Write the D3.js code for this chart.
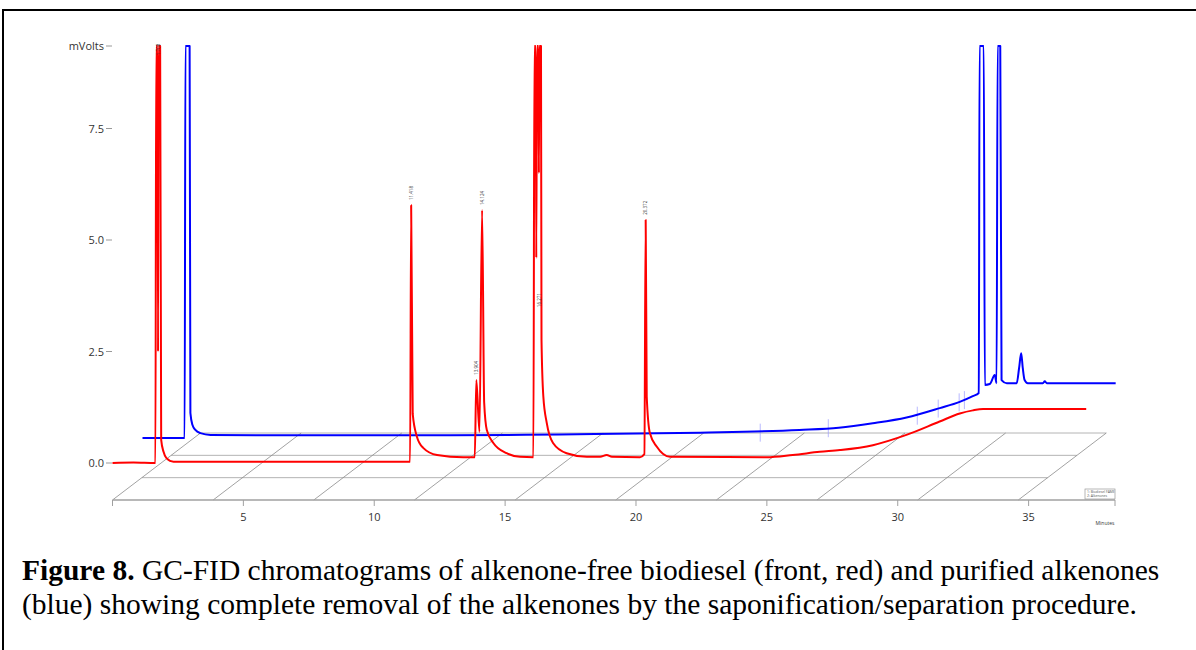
<!DOCTYPE html>
<html>
<head>
<meta charset="utf-8">
<script src="https://cdn.jsdelivr.net/npm/d3@7"></script>
<style>
  body { margin: 0; background: #fff; }
  svg { display: block; }
</style>
</head>
<body>
<svg id="chart" width="1196" height="650"></svg>
<script>
// ---- data (time in minutes, signal in mV) ----
// values of 9.4 mean the peak runs off the top of the plot
var redTrace = [
  [0.00, 0.00], [0.80, 0.01], [1.64, 0.00], [1.67, 9.4], [1.72, 9.4],
  [1.74, 2.5], [1.76, 9.4], [1.82, 9.4],
  [1.86, 0.52], [1.95, 0.25], [2.06, 0.11], [2.33, 0.03], [6.00, 0.03],
  [11.37, 0.03], [11.41, 5.78], [11.47, 1.10], [11.63, 0.59], [11.87, 0.34],
  [12.40, 0.18], [13.40, 0.13], [13.84, 0.13], [13.90, 1.86], [14.02, 0.70],
  [14.12, 5.67], [14.20, 1.35], [14.30, 0.74], [14.55, 0.45], [15.06, 0.22],
  [15.57, 0.14], [16.08, 0.13], [16.12, 9.4], [16.17, 9.4], [16.19, 4.6],
  [16.22, 9.4], [16.27, 9.4], [16.29, 6.5], [16.31, 9.4], [16.37, 9.4],
  [16.39, 2.76], [16.46, 1.49], [16.59, 0.90],
  [16.83, 0.45], [17.35, 0.22], [18.12, 0.14], [18.63, 0.14], [18.88, 0.18],
  [19.08, 0.14], [20.15, 0.13], [20.32, 0.20], [20.37, 5.45], [20.41, 1.49],
  [20.53, 0.67], [20.79, 0.37], [21.30, 0.14], [24.99, 0.13], [25.99, 0.18],
  [27.02, 0.25], [27.79, 0.29], [29.05, 0.40], [30.33, 0.63], [31.60, 0.93],
  [32.37, 1.11], [32.87, 1.18], [33.26, 1.21], [37.20, 1.21]
];

var blueTrace = [
  [0.00, 0.00], [1.61, 0.00], [1.64, 9.4], [1.80, 9.4], [1.83, 0.56],
  [1.91, 0.29], [2.02, 0.18], [2.21, 0.11], [2.60, 0.07], [6.03, 0.06],
  [11.76, 0.06], [15.95, 0.08], [21.30, 0.12], [25.10, 0.18], [26.60, 0.23],
  [27.90, 0.33], [29.19, 0.46], [30.46, 0.67], [31.22, 0.81], [31.72, 0.94],
  [31.95, 1.01], [31.98, 9.4], [32.14, 9.4], [32.18, 1.19], [32.37, 1.21],
  [32.56, 1.41], [32.63, 1.23], [32.67, 9.4], [32.77, 9.4], [32.82, 1.30],
  [33.02, 1.23], [33.40, 1.23], [33.49, 1.57], [33.57, 1.90], [33.63, 1.57],
  [33.70, 1.30], [33.82, 1.23], [34.40, 1.23], [34.47, 1.27], [34.55, 1.23],
  [37.18, 1.23]
];

// small noise spikes on the blue trace (time, baseline mV)
var blueSpikes = [[23.6, 0.12], [26.2, 0.22], [29.6, 0.50], [30.4, 0.66], [31.2, 0.80], [31.4, 0.85]];

// retention-time labels printed above the red peaks [time, mV at label foot, text]
var peakLabels = [
  [1.74, 9.1, '1.708'],
  [11.41, 5.85, '11.418'],
  [13.90, 1.93, '13.904'],
  [14.12, 5.74, '14.124'],
  [16.33, 3.45, '16.271'],
  [20.37, 5.52, '20.372']
];

var yTicks = [0, 2.5, 5, 7.5];
var yTopLabel = 'mVolts';
var xTicks = [5, 10, 15, 20, 25, 30, 35];
var legendItems = ['1: Biodiesel FAME', '2: Alkenones'];

var captionBold = 'Figure 8.';
var captionLine1 = ' GC-FID chromatograms of alkenone-free biodiesel (front, red) and purified alkenones';
var captionLine2 = '(blue) showing complete removal of the alkenones by the saponification/separation procedure.';

// ---- layout ----
var yTop = 9.35;
var tMax = 38.3;
var floorY = 500;
var depth = { dx: 88, dy: -67 };     // floor depth vector
var gridStep = 3.845;                 // spacing of the floor diagonals (min)
var nDiag = 10;
var blueShift = { dx: 30, dy: -25 };  // back trace offset

var svg = d3.select('#chart');

var x = d3.scaleLinear().domain([0, tMax]).range([112.5, 1115]);
var y = d3.scaleLinear().domain([0, yTop]).range([463, 46]);

// outer frame
svg.append('rect')
  .attr('x', 3).attr('y', 10)
  .attr('width', 1250).attr('height', 700)
  .style('fill', 'none')
  .style('stroke', '#000')
  .style('stroke-width', 2);

// ---- 3D floor ----
var floor = svg.append('g').attr('class', 'floor');
var gridEnd = (nDiag - 1) * gridStep;

[1 / 3, 2 / 3, 1].forEach(function (f) {
  floor.append('line')
    .attr('x1', x(0) + depth.dx * f).attr('y1', floorY + depth.dy * f)
    .attr('x2', x(gridEnd) + depth.dx * f).attr('y2', floorY + depth.dy * f)
    .style('stroke', '#b4b4b4')
    .style('stroke-width', 1);
});

floor.selectAll('.diag')
  .data(d3.range(nDiag))
  .enter()
  .append('line')
  .attr('class', 'diag')
  .attr('x1', function (k) { return x(k * gridStep); })
  .attr('y1', floorY)
  .attr('x2', function (k) { return x(k * gridStep) + depth.dx; })
  .attr('y2', floorY + depth.dy)
  .style('stroke', '#8a8a8a')
  .style('stroke-width', 0.8);

// front (time) axis
floor.append('line')
  .attr('x1', x(0)).attr('y1', floorY)
  .attr('x2', x(tMax)).attr('y2', floorY)
  .style('stroke', '#a0a0a0')
  .style('stroke-width', 1.6);

floor.selectAll('.xtick')
  .data([0].concat(xTicks).concat([tMax]))
  .enter()
  .append('line')
  .attr('class', 'xtick')
  .attr('x1', function (d) { return x(d); })
  .attr('x2', function (d) { return x(d); })
  .attr('y1', floorY)
  .attr('y2', floorY + 6)
  .style('stroke', '#a0a0a0')
  .style('stroke-width', 1);

floor.selectAll('.xlabel')
  .data(xTicks)
  .enter()
  .append('text')
  .attr('class', 'xlabel')
  .attr('x', function (d) { return x(d); })
  .attr('y', floorY + 21)
  .attr('text-anchor', 'middle')
  .style('font-family', '"Open Sans", sans-serif')
  .style('font-size', '11px')
  .style('fill', '#333')
  .text(function (d) { return d; });

floor.append('text')
  .attr('x', x(tMax) - 10)
  .attr('y', floorY + 25)
  .attr('text-anchor', 'middle')
  .style('font-family', '"Open Sans", sans-serif')
  .style('font-size', '5px')
  .style('fill', '#333')
  .text('Minutes');

// ---- y axis ----
var yaxis = svg.append('g').attr('class', 'yaxis');
var yTickData = yTicks.map(function (v) { return [v, d3.format('.1f')(v)]; })
  .concat([[yTop, yTopLabel]]);

yaxis.selectAll('line')
  .data(yTickData)
  .enter()
  .append('line')
  .attr('x1', 106).attr('x2', 112)
  .attr('y1', function (d) { return y(d[0]); })
  .attr('y2', function (d) { return y(d[0]); })
  .style('stroke', '#999')
  .style('stroke-width', 1);

yaxis.selectAll('text')
  .data(yTickData)
  .enter()
  .append('text')
  .attr('x', 104)
  .attr('y', function (d) { return y(d[0]) + 4; })
  .attr('text-anchor', 'end')
  .style('font-family', '"Open Sans", sans-serif')
  .style('font-size', '11px')
  .style('fill', '#333')
  .text(function (d) { return d[1]; });

// ---- traces ----
// every trace is cut at the top edge of the plot, whatever its depth
var topPx = y(yTop);

function traceLine(shift) {
  return d3.line()
    .x(function (d) { return x(d[0]) + shift.dx; })
    .y(function (d) { return Math.max(y(Math.min(d[1], yTop)) + shift.dy, topPx); })
    .curve(d3.curveMonotoneX);
}

// blue noise spikes (drawn faint, behind)
svg.selectAll('.spike')
  .data(blueSpikes)
  .enter()
  .append('line')
  .attr('class', 'spike')
  .attr('x1', function (d) { return x(d[0]) + blueShift.dx; })
  .attr('x2', function (d) { return x(d[0]) + blueShift.dx; })
  .attr('y1', function (d) { return y(d[1]) + blueShift.dy - 9; })
  .attr('y2', function (d) { return y(d[1]) + blueShift.dy + 9; })
  .style('stroke', '#9a9aff')
  .style('stroke-width', 0.7);

svg.append('path')
  .datum(blueTrace)
  .attr('d', traceLine(blueShift))
  .style('fill', 'none')
  .style('stroke', '#0000ff')
  .style('stroke-width', 2)
  .style('stroke-linejoin', 'round');

svg.append('path')
  .datum(redTrace)
  .attr('d', traceLine({ dx: 0, dy: 0 }))
  .style('fill', 'none')
  .style('stroke', '#ff0000')
  .style('stroke-width', 2)
  .style('stroke-linejoin', 'round');

// peak labels
svg.selectAll('.plabel')
  .data(peakLabels)
  .enter()
  .append('text')
  .attr('class', 'plabel')
  .attr('transform', function (d) {
    return 'translate(' + (x(d[0]) + 1.5) + ',' + (y(Math.min(d[1], yTop)) - 2) + ') rotate(-90)';
  })
  .style('font-family', '"Open Sans", sans-serif')
  .style('font-size', '4.5px')
  .style('fill', '#333')
  .text(function (d) { return d[2]; });

// legend box
var lg = svg.append('g').attr('transform', 'translate(1085,489)');
lg.append('rect')
  .attr('width', 30).attr('height', 10)
  .style('fill', '#fff')
  .style('stroke', '#999')
  .style('stroke-width', 0.7);
lg.selectAll('text')
  .data(legendItems)
  .enter()
  .append('text')
  .attr('x', 2)
  .attr('y', function (d, i) { return 4.3 + i * 4; })
  .style('font-family', '"Open Sans", sans-serif')
  .style('font-size', '3.4px')
  .style('fill', '#555')
  .text(function (d) { return d; });

// ---- caption ----
var cap = svg.append('text')
  .attr('x', 22)
  .attr('y', 580)
  .style('font-family', '"Liberation Serif", "Times New Roman", serif')
  .style('font-size', '29.5px')
  .style('fill', '#000');
cap.append('tspan').style('font-weight', 'bold').text(captionBold);
cap.append('tspan').text(captionLine1);

svg.append('text')
  .attr('x', 22)
  .attr('y', 614)
  .style('font-family', '"Liberation Serif", "Times New Roman", serif')
  .style('font-size', '29.5px')
  .style('fill', '#000')
  .text(captionLine2);
</script>
</body>
</html>
